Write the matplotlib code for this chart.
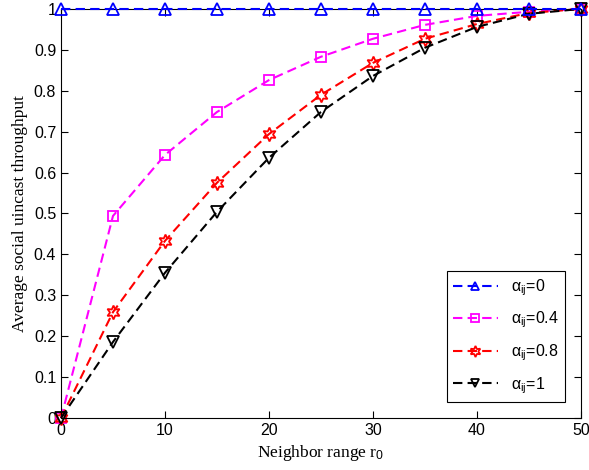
import numpy as np
import matplotlib
matplotlib.use('Agg')
import matplotlib.pyplot as plt

# neighbor range r0
r0 = [0, 5, 10, 15, 20, 25, 30, 35, 40, 45, 50]

# throughput for each alpha_ij
thr_a0 = [1, 1, 1, 1, 1, 1, 1, 1, 1, 1, 1]
thr_a04 = [0, 0.494, 0.643, 0.748, 0.826, 0.883, 0.927, 0.961, 0.983, 0.993, 1.0]
thr_a08 = [0, 0.259, 0.433, 0.575, 0.694, 0.790, 0.868, 0.927, 0.963, 0.990, 1.0]
thr_a1 = [0, 0.186, 0.355, 0.504, 0.636, 0.748, 0.836, 0.905, 0.956, 0.988, 1.0]

labels = [r'$\alpha_{\mathrm{ij}}$=0', r'$\alpha_{\mathrm{ij}}$=0.4',
          r'$\alpha_{\mathrm{ij}}$=0.8', r'$\alpha_{\mathrm{ij}}$=1']

plt.rcParams['font.family'] = ['Liberation Sans', 'DejaVu Sans']
plt.rcParams['mathtext.fontset'] = 'custom'
plt.rcParams['mathtext.rm'] = 'Liberation Sans'
plt.rcParams['mathtext.it'] = 'Liberation Sans'

fig = plt.figure(figsize=(5.89, 4.70), dpi=100)
ax = fig.add_axes([0.1036, 0.1106, 0.8824, 0.8704])

hexagram = (6, 1, 0)
dash = (4.5, 2.5)
ax.plot(r0, thr_a0, '--', color='blue', lw=1.5, marker='^', ms=8, dashes=dash,
        mfc='none', mew=1.3, label=labels[0], clip_on=False, zorder=5)
ax.plot(r0, thr_a04, '--', color='magenta', lw=1.5, marker='s', ms=7, dashes=dash,
        mfc='none', mew=1.3, label=labels[1], clip_on=False)
ax.plot(r0, thr_a08, '--', color='red', lw=1.5, marker=hexagram, ms=10, dashes=dash,
        mfc='none', mew=1.3, label=labels[2], clip_on=False)
ax.plot(r0, thr_a1, '--', color='black', lw=1.5, marker='v', ms=8, dashes=dash,
        mfc='none', mew=1.3, label=labels[3], clip_on=False)

ax.set_xlim(0, 50)
ax.set_ylim(0, 1)
ax.set_xticks(np.arange(0, 51, 10))
ax.set_yticks(np.arange(0, 1.01, 0.1))
ax.set_yticklabels(['0', '0.1', '0.2', '0.3', '0.4', '0.5', '0.6', '0.7',
                    '0.8', '0.9', '1'])
ax.tick_params(direction='in', top=True, right=True, labelsize=11.5,
               length=5, width=0.8)
for s in ax.spines.values():
    s.set_linewidth(0.8)

ax.set_xlabel(r'Neighbor range r$_0$', family='Liberation Serif', fontsize=12.5,
              labelpad=4)
ax.set_ylabel('Average social uincast throughput', family='Liberation Serif',
              fontsize=12.5, labelpad=4)

leg = ax.legend(loc='lower right', fontsize=11.5, fancybox=False,
                edgecolor='black', framealpha=1, handlelength=2.8,
                borderaxespad=1.0, labelspacing=0.75, markerscale=0.8)
leg.get_frame().set_linewidth(0.8)

fig.savefig('out.png', dpi=100)
